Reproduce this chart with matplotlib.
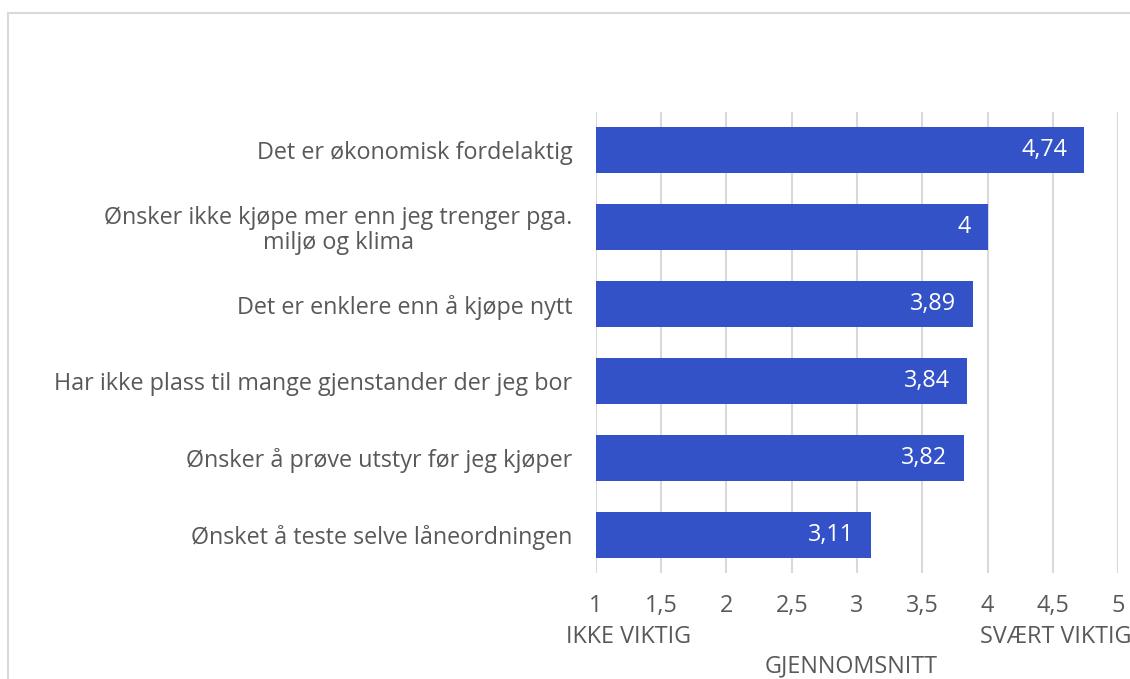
import matplotlib
matplotlib.use("Agg")
import matplotlib.pyplot as plt
from matplotlib.patches import Rectangle

categories = [
    "Det er økonomisk fordelaktig",
    "Ønsker ikke kjøpe mer enn jeg trenger pga.\nmiljø og klima",
    "Det er enklere enn å kjøpe nytt",
    "Har ikke plass til mange gjenstander der jeg bor",
    "Ønsker å prøve utstyr før jeg kjøper",
    "Ønsket å teste selve låneordningen",
]
values = [4.74, 4.0, 3.89, 3.84, 3.82, 3.11]
ticks = [1, 1.5, 2, 2.5, 3, 3.5, 4, 4.5, 5]

plt.rcParams["font.family"] = ["Open Sans", "DejaVu Sans"]
text_color = "#595959"
bar_color = "#3352C8"
fs = 16.8

fig = plt.figure(figsize=(11.3, 6.79), dpi=100)
ax = fig.add_axes([0.5274, 0.1561, 0.4620, 0.6789])

# outer chart frame
fig.patches.append(Rectangle((8 / 1130, -0.1), 1.2, 1 - 13 / 679 + 0.1,
                             transform=fig.transFigure, fill=False,
                             edgecolor="#d9d9d9", linewidth=1.5))

y = list(range(len(categories)))
ax.barh(y, [v - 1 for v in values], left=1, height=0.6, color=bar_color, zorder=2)
for yi, v in zip(y, values):
    label = f"{v:g}".replace(".", ",")
    ax.text(v - 0.13, yi, label, ha="right", va="center", color="white",
            fontsize=fs, zorder=3)

ax.set_xlim(1, 5)
ax.set_ylim(len(categories) - 0.5, -0.5)
ax.set_xticks(ticks)
ax.set_xticklabels([f"{t:g}".replace(".", ",") for t in ticks])
ax.set_yticks(y)
ax.set_yticklabels(categories, multialignment="center", linespacing=1.05)
ax.tick_params(axis="both", length=0, labelsize=fs, labelcolor=text_color)
ax.tick_params(axis="y", pad=17)
ax.tick_params(axis="x", pad=15)
ax.grid(axis="x", color="#d9d9d9", linewidth=1.5, zorder=0)
for s in ax.spines.values():
    s.set_visible(False)

fig.text(566 / 1130, 1 - 637 / 679, "IKKE VIKTIG", ha="left", va="center",
         fontsize=fs, color=text_color)
fig.text(1131 / 1130, 1 - 637 / 679, "SVÆRT VIKTIG", ha="right", va="center",
         fontsize=fs, color=text_color)
fig.text(851 / 1130, 1 - 666 / 679, "GJENNOMSNITT", ha="center", va="center",
         fontsize=fs, color=text_color)

fig.savefig("out.png", dpi=100)
